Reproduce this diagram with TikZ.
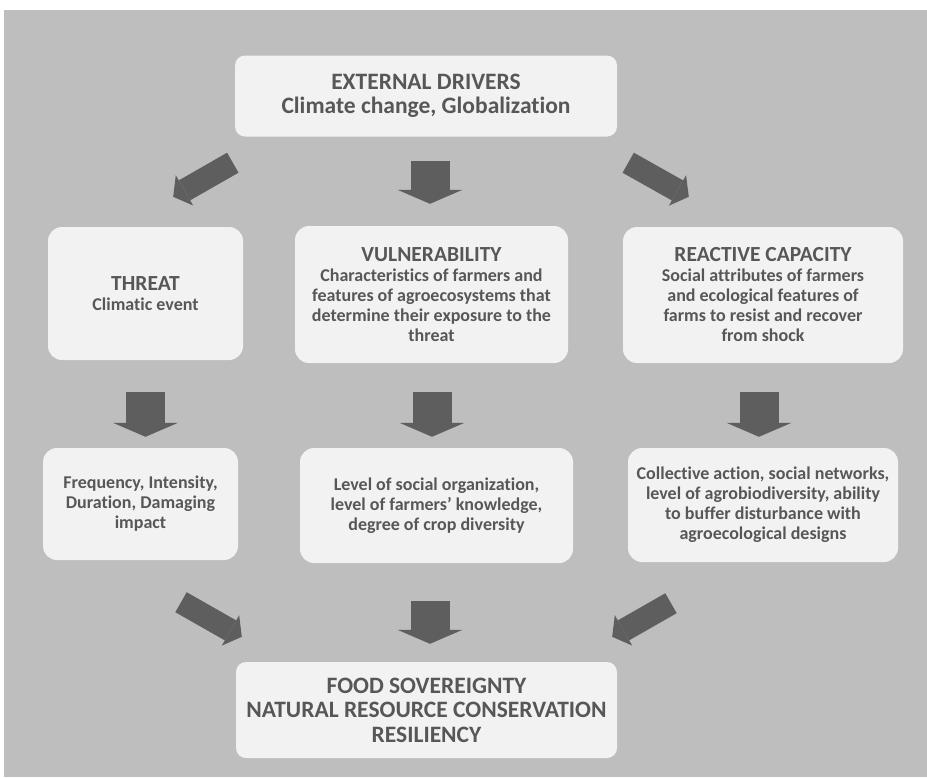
\documentclass[tikz,border=0pt]{standalone}
\usepackage{fontspec}
\setmainfont{Carlito}[Ligatures={TeX,NoCommon}]
\usetikzlibrary{arrows.meta,calc}

\definecolor{panelgray}{HTML}{BEBEBE}
\definecolor{cardfill}{HTML}{F2F2F2}
\definecolor{inkgray}{HTML}{575757}
\definecolor{pointergray}{HTML}{5E5E5E}

\newcommand{\cardtitle}[1]{{\fontsize{21.5}{22}\selectfont #1}}

\begin{document}
\begin{tikzpicture} [x = 1pt, y = -1pt,
    card/.style = {fill=cardfill,
    rounded corners = 14pt,
    align = center,
    text = inkgray,
    inner sep = 0pt,
    font = \bfseries\fontsize{18}{20}\selectfont},
    widecard/.style = {card,
    rounded corners = 10pt,
    font = \bfseries\fontsize{23.5}{24.5}\selectfont},
    bigarrow/.style = {draw=pointergray,
    line width = 39pt,
    -{Triangle[width=65pt, length=14pt, line width=0pt]}},
    smallarrow/.style = {draw=pointergray,
    line width = 23pt,
    -{Triangle[width=35pt, length=13pt, line width=0pt]}}]

\useasboundingbox (0,0) rectangle (927,777);
\fill[white] (0,0) rectangle (927,777);
\fill[panelgray] (4,10) rectangle (927,777);

\node (drivers) at (426,96) [widecard, minimum width=382pt, minimum height=81pt] {EXTERNAL DRIVERS\\Climate change, Globalization};

\node (threat) at (145.5,293.5) [card, minimum width=195pt, minimum height=133pt] {\cardtitle{THREAT}\\Climatic event};
\node (vuln) at (431.5,294.5) [card, minimum width=273pt, minimum height=137pt] {\cardtitle{VULNERABILITY}\\Characteristics of farmers and\\features of agroecosystems that\\determine their exposure to the\\threat};
\node (react) at (763,295) [card, minimum width=280pt, minimum height=136pt] {\cardtitle{REACTIVE CAPACITY}\\Social attributes of farmers\\and ecological features of\\farms to resist and recover\\from shock};

\node (freq) at (140.5,504) [card, minimum width=195pt, minimum height=112pt] {Frequency, Intensity,\\Duration, Damaging\\impact};
\node (level) at (436.5,505.5) [card, minimum width=273pt, minimum height=115pt] {Level of social organization,\\level of farmers’ knowledge,\\degree of crop diversity};
\node (collect) at (763,505) [card, minimum width=270pt, minimum height=114pt] {Collective action, social networks,\\level of agrobiodiversity, ability\\to buffer disturbance with\\agroecological designs};

\node (food) at (426.5,710) [widecard, minimum width=381pt, minimum height=96pt] {FOOD SOVEREIGNTY\\NATURAL RESOURCE CONSERVATION\\RESILIENCY};

\draw[smallarrow] ($(drivers.south west)+(-2,26)$) -- ($(threat.north east)+(-70,-30)$);
\draw[bigarrow] ($(drivers.south)+(4,24)$) -- ($(vuln.north)+(-1.5,-22)$);
\draw[smallarrow] ($(drivers.south east)+(11,26)$) -- ($(react.north west)+(66,-30)$);

\draw[bigarrow] ($(threat.south)+(0,32)$) -- ($(freq.north)+(5,-11)$);
\draw[bigarrow] ($(vuln.south)+(0.5,29)$) -- ($(level.north)+(-4.5,-11)$);
\draw[bigarrow] ($(react.south)+(-4,29)$) -- ($(collect.north)+(-4,-11)$);

\draw[smallarrow] ($(freq.south)+(40.5,42)$) -- ($(food.north west)+(6,-25)$);
\draw[bigarrow] ($(level.south)+(-6.5,38)$) -- ($(food.north)+(3.5,-18)$);
\draw[smallarrow] ($(collect.south)+(-92,41)$) -- ($(food.north east)+(-5,-25)$);

\end{tikzpicture}
\end{document}
